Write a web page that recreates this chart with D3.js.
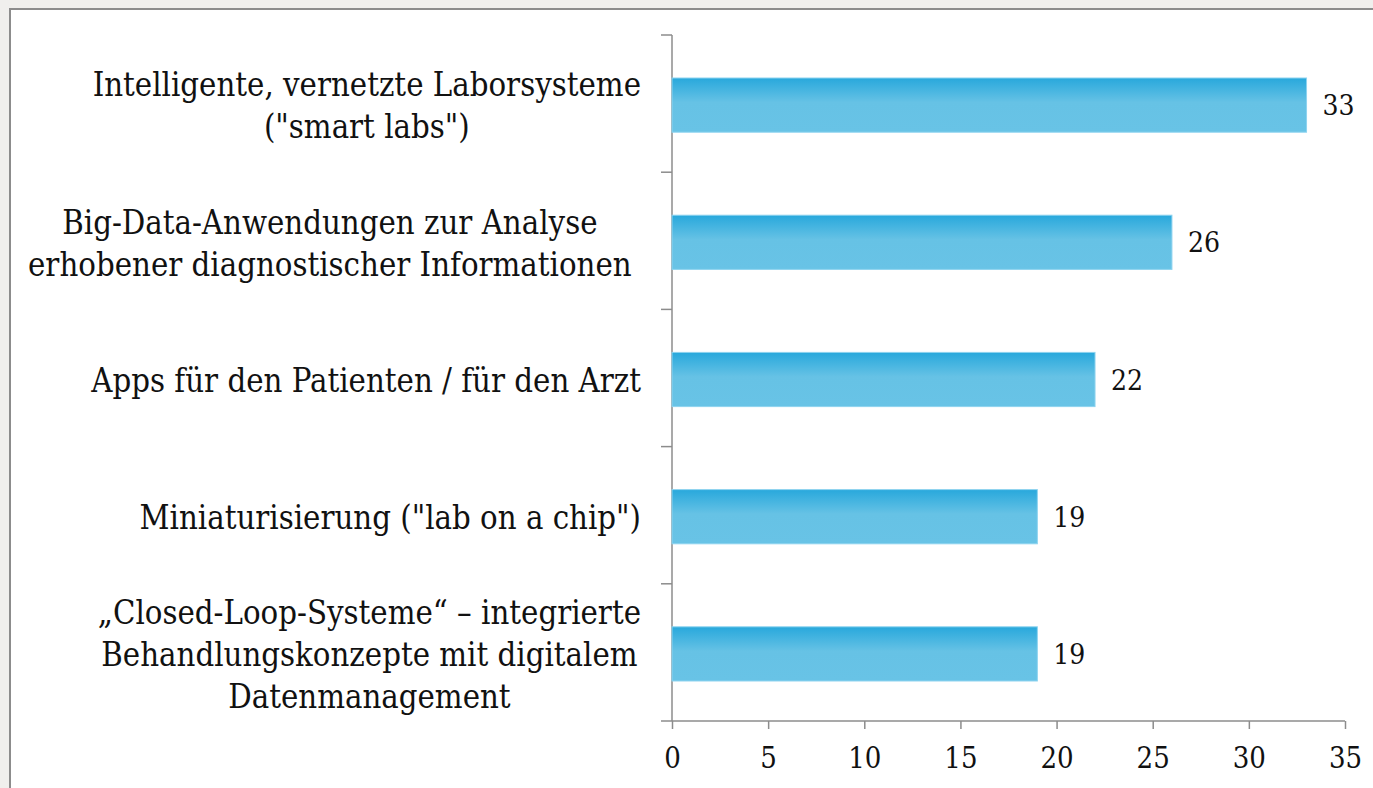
<!DOCTYPE html>
<html>
<head>
<meta charset="utf-8">
<script src="https://cdn.jsdelivr.net/npm/d3@7"></script>
<style>
  html, body { margin: 0; padding: 0; background: #f0efed; }
  svg { display: block; }
  text { font-family: "DejaVu Serif Condensed", "DejaVu Serif", serif; fill: #111; }
  .cat text { white-space: pre; }
</style>
</head>
<body>
<svg width="1373" height="788"></svg>
<script>
// data
const categories = [
  ["Intelligente, vernetzte Laborsysteme", "(\"smart labs\")"],
  ["Big-Data-Anwendungen zur Analyse ", "erhobener diagnostischer Informationen "],
  ["Apps für den Patienten / für den Arzt"],
  ["Miniaturisierung (\"lab on a chip\")"],
  ["„Closed-Loop-Systeme“ – integrierte", "Behandlungskonzepte mit digitalem", "Datenmanagement"]
];
const values = [33, 26, 22, 19, 19];
const xTicks = [0, 5, 10, 15, 20, 25, 30, 35];

const svg = d3.select("svg");
const margin = { top: 35, right: 28, bottom: 67, left: 672 };
const width = 1373 - margin.left - margin.right;
const height = 788 - margin.top - margin.bottom;

// frame
svg.append("rect").attr("x", 10).attr("y", 9).attr("width", 1400).attr("height", 800)
  .attr("fill", "#fff").attr("stroke", "#8c8c8c").attr("stroke-width", 2);

const defs = svg.append("defs");
const grad = defs.append("linearGradient").attr("id", "barGrad")
  .attr("x1", 0).attr("y1", 0).attr("x2", 0).attr("y2", 1);
grad.append("stop").attr("offset", "0%").attr("stop-color", "#28a8dc");
grad.append("stop").attr("offset", "45%").attr("stop-color", "#66c2e5");
grad.append("stop").attr("offset", "100%").attr("stop-color", "#68c3e6");

const g = svg.append("g").attr("transform", "translate(" + margin.left + "," + margin.top + ")");

const x = d3.scaleLinear().domain([0, 35]).range([0, width]);
const band = d3.scaleBand().domain(d3.range(categories.length)).range([0, height]);
const barH = band.bandwidth() * 0.395;

// x axis
const xAxis = g.append("g").attr("transform", "translate(0," + height + ")")
  .call(d3.axisBottom(x).tickValues(xTicks).tickSize(8).tickSizeOuter(0).tickPadding(18));
xAxis.select(".domain").remove();
xAxis.append("line").attr("x1", -11).attr("x2", width).attr("stroke", "#8c8c8c").attr("stroke-width", 1.5);
xAxis.selectAll(".tick line").attr("stroke", "#8c8c8c").attr("stroke-width", 1.5);
xAxis.selectAll(".tick text").attr("font-size", 29).attr("fill", "#111")
  .style("font-family", "'DejaVu Serif Condensed', 'DejaVu Serif', serif");

// y axis line and category separators
g.append("line").attr("x1", 0).attr("x2", 0).attr("y1", 0).attr("y2", height)
  .attr("stroke", "#8c8c8c").attr("stroke-width", 1.5);
g.selectAll(".sep").data(d3.range(categories.length)).enter().append("line")
  .attr("class", "sep")
  .attr("x1", -11).attr("x2", 0)
  .attr("y1", d => band(d)).attr("y2", d => band(d))
  .attr("stroke", "#8c8c8c").attr("stroke-width", 1.5);

// bars
g.selectAll(".bar").data(values).enter().append("rect")
  .attr("class", "bar")
  .attr("x", 0)
  .attr("y", (d, i) => band(i) + band.bandwidth() / 2 - barH / 2 + 1.5)
  .attr("width", d => x(d))
  .attr("height", barH)
  .attr("fill", "url(#barGrad)")
  .attr("stroke", "#8ed3ef").attr("stroke-width", 1);

// value labels
g.selectAll(".val").data(values).enter().append("text")
  .attr("class", "val")
  .attr("x", d => x(d) + 16)
  .attr("y", (d, i) => band(i) + band.bandwidth() / 2 + 1.5)
  .attr("dy", "0.36em")
  .attr("font-size", 28)
  .text(d => d);

// category labels: block right-aligned, lines centered inside the block
const lineH = 42;
categories.forEach((lines, i) => {
  const cg = g.append("g").attr("class", "cat");
  const cy = band(i) + band.bandwidth() / 2 + 2;
  const t = cg.selectAll("text").data(lines).enter().append("text")
    .attr("font-size", 32.6)
    .attr("text-anchor", "middle")
    .attr("y", (d, j) => cy + (j - (lines.length - 1) / 2) * lineH)
    .attr("dy", "0.36em")
    .text(d => d);
  let maxW = 0;
  t.each(function() { maxW = Math.max(maxW, this.getComputedTextLength()); });
  t.attr("x", -31 - maxW / 2);
});
</script>
</body>
</html>
